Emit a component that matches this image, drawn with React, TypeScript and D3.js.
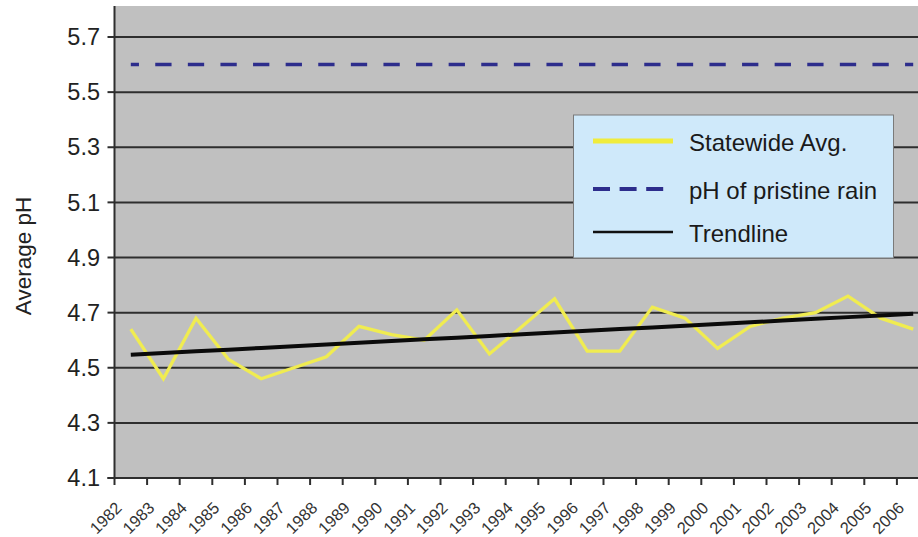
import React from "react";
import * as d3 from "d3";

const years = ["1982","1983","1984","1985","1986","1987","1988","1989","1990","1991","1992","1993","1994","1995","1996","1997","1998","1999","2000","2001","2002","2003","2004","2005","2006"];
const statewideAvg = [4.64,4.46,4.68,4.53,4.46,4.50,4.54,4.65,4.62,4.60,4.71,4.55,4.65,4.75,4.56,4.56,4.72,4.68,4.57,4.65,4.68,4.70,4.76,4.68,4.64];
const pristineRain = [5.6,5.6,5.6,5.6,5.6,5.6,5.6,5.6,5.6,5.6,5.6,5.6,5.6,5.6,5.6,5.6,5.6,5.6,5.6,5.6,5.6,5.6,5.6,5.6,5.6];
const yTicks = [4.1,4.3,4.5,4.7,4.9,5.1,5.3,5.5,5.7];
const legendLabels = ["Statewide Avg.", "pH of pristine rain", "Trendline"];

const W = 918, H = 537;
const plotLeft = 114.5, plotTop = 6, plotBottom = 478;
const bandW = 32.6;
const plotRight = plotLeft + years.length * bandW;
const font = "Arial, 'Liberation Sans', Helvetica, sans-serif";
const gridColor = "#2e2e2e";

export default function App() {
  const x = d3.scaleBand<string>().domain(years).range([plotLeft, plotRight]).padding(0);
  const xc = (yr: string) => (x(yr) as number) + x.bandwidth() / 2;
  const y = d3.scaleLinear().domain([4.1, 5.7]).range([plotBottom, 37]);

  // least-squares trendline (as Excel computes it)
  const n = statewideAvg.length;
  const idx = d3.range(n);
  const mx = d3.mean(idx) as number;
  const my = d3.mean(statewideAvg) as number;
  const slope = d3.sum(idx, (i) => (i - mx) * (statewideAvg[i] - my)) / d3.sum(idx, (i) => (i - mx) ** 2);
  const intercept = my - slope * mx;
  const trend = idx.map((i) => intercept + slope * i);

  const line = d3.line<number>().x((_, i) => xc(years[i])).y((v) => y(v));
  const bw = x.bandwidth();

  const legX = 573.5, legY = 115, legW = 320, legH = 143;
  const rowY = [141, 189, 232];

  return (
    <svg width={W} height={H} style={{ position: "absolute", left: 0, top: 0, background: "#fff" }} fontFamily={font}>
      <defs>
        <clipPath id="clip">
          <rect x={0} y={0} width={W} height={H} />
        </clipPath>
      </defs>
      <g clipPath="url(#clip)">
        <rect x={plotLeft} y={plotTop} width={plotRight - plotLeft} height={plotBottom - plotTop} fill="#c0c0c0" />
        {yTicks.slice(1).map((t) => (
          <line key={t} x1={plotLeft} x2={plotRight} y1={y(t)} y2={y(t)} stroke={gridColor} strokeWidth={2} />
        ))}
        <path d={line(pristineRain) || ""} fill="none" stroke="#2d2d8c" strokeWidth={3.5}
          strokeDasharray={`${bw / 2} ${bw / 2}`} strokeDashoffset={bw / 4} />
        <path d={line(statewideAvg) || ""} fill="none" stroke="#f0ec50" strokeWidth={3.3} strokeLinejoin="miter" />
        <path d={line(trend) || ""} fill="none" stroke="#0a0a0a" strokeWidth={4} />

        {/* legend */}
        <rect x={legX} y={legY} width={legW} height={legH} fill="#cfe9fa" stroke="#7a7a7a" strokeWidth={1} />
        <line x1={593} x2={673} y1={rowY[0]} y2={rowY[0]} stroke="#f0ec3c" strokeWidth={5} />
        <line x1={593} x2={672} y1={rowY[1]} y2={rowY[1]} stroke="#2d2d8c" strokeWidth={4} strokeDasharray="17 9.6" />
        <line x1={593} x2={673} y1={rowY[2]} y2={rowY[2]} stroke="#111" strokeWidth={2.5} />
        {legendLabels.map((l, i) => (
          <text key={l} x={689} y={rowY[i] + 10} fontSize={24} fill="#1a1a1a">{l}</text>
        ))}

        {/* axes */}
        <line x1={plotLeft} x2={plotLeft} y1={plotTop} y2={plotBottom + 1} stroke={gridColor} strokeWidth={2} />
        <line x1={plotLeft - 7} x2={plotRight} y1={plotBottom} y2={plotBottom} stroke={gridColor} strokeWidth={2} />
        {yTicks.map((t) => (
          <g key={t}>
            <line x1={plotLeft - 7} x2={plotLeft} y1={y(t)} y2={y(t)} stroke={gridColor} strokeWidth={2} />
            <text x={100} y={y(t)} dy="0.35em" textAnchor="end" fontSize={23.5} fill="#222">{t.toFixed(1)}</text>
          </g>
        ))}
        {years.map((yr) => (
          <line key={"t" + yr} x1={x(yr) as number} x2={x(yr) as number} y1={plotBottom} y2={plotBottom + 7} stroke={gridColor} strokeWidth={2} />
        ))}
        {years.map((yr) => (
          <text key={"l" + yr} transform={`translate(${xc(yr) - 8},${509}) rotate(-45)`} textAnchor="end" fontSize={16.5} fill="#333">{yr}</text>
        ))}
        <text transform={`translate(31,256) rotate(-90)`} textAnchor="middle" fontSize={22.5} fill="#222">Average pH</text>
      </g>
    </svg>
  );
}
